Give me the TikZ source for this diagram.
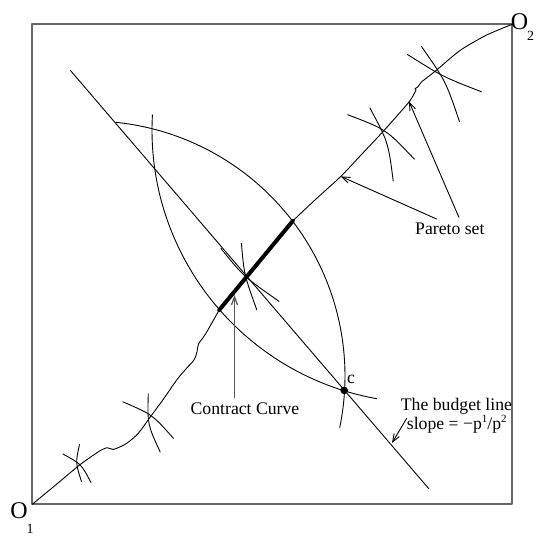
\documentclass[tikz,border=0pt]{standalone}
\usepackage{fontspec}
\setmainfont{Liberation Serif}
\usetikzlibrary{arrows.meta}
\begin{document}
\begin{tikzpicture}[x=1pt,y=-1pt,>={Straight Barb[length=8pt,width=6pt]},line join=round,line cap=round,
		curve/.style={line width=0.9pt},
		lbl/.style={inner sep=0pt,font=\fontsize{17.7}{18}\selectfont},
		orig/.style={inner sep=0pt,font=\fontsize{24}{24}\selectfont},
		origsub/.style={inner sep=0pt,font=\fontsize{14}{14}\selectfont}]
			\useasboundingbox (0,0) rectangle (537,536);
			\draw[black!60,line width=1.6pt] (32,24) rectangle (512,504);
			\node[orig] (o1) at (19,511) {O};
			\node[origsub] (o1sub) at (30,528.5) {1};
			\node[orig] (o2) at (519.5,21.5) {O};
			\node[origsub] (o2sub) at (530.5,36) {2};
			\coordinate (b1) at (70.2,70.2);
			\coordinate (b2) at (428.8,488.7);
			\draw[curve] (b1) -- (b2);
			\draw[curve] (90,376) ++(-84.2:255) arc[start angle=-84.2,end angle=11.7,radius=255];
			\draw[curve] (425,130) ++(183.2:273) arc[start angle=183.2,end angle=100.2,radius=273];
			\coordinate (cc1) at (219.2,310);
			\coordinate (cc2) at (292.8,220.9);
			\draw[curve] plot[smooth] coordinates {(32.3,504.3) (55,485.5) (78.3,466) (90,457.5) (100,450.7) (103.3,449) (106.7,447.7) (110,448.5) (113.3,449.5) (116.7,448.3) (126.7,443.3) (138.3,433.3) (150,417.3) (163.3,399.3) (176.7,380) (186.6,368.2) (194,360) (197,352) (198.5,344) (205.5,334) (219.2,310)};
			\draw[curve] plot[smooth] coordinates {(292.8,220.9) (316,199) (340.8,176.4) (361,155) (381.8,132.9) (396,117) (409,102) (414,94) (416,90)}
				-- (415,88.6) -- (417.5,87.3) -- plot[smooth] coordinates {(421.7,81.7) (436.7,70) (450,58.5) (463.3,48.3) (486.7,35) (511.7,24.5)};
			\draw[line width=4pt] (cc1) -- (cc2);
			\draw[curve] (79.5,444.5) .. controls (75.5,463) .. (81.5,481.5);
			\draw[curve] (62.9,454) .. controls (81.2,464) .. (91,482.5);
			\draw[curve] (148.3,393.8) .. controls (147.4,424.3) .. (160.2,452);
			\draw[curve] (122.8,401.8) .. controls (152.2,414.4) .. (173.5,438.4);
			\draw[curve] (220.9,248.3) .. controls (243.2,276.2) .. (279.1,301.4);
			\draw[curve] (241.4,243.2) .. controls (244.1,274.5) .. (256.8,309.9);
			\draw[curve] (347.6,114.7) .. controls (386.1,129.3) .. (414.4,159.2);
			\draw[curve] (369.9,107.9) .. controls (388.2,142.2) .. (393.2,180.8);
			\draw[curve] (407.5,54.5) .. controls (442.7,76.7) .. (481.5,91.8);
			\draw[curve] (421.4,46.4) .. controls (445.8,81.3) .. (459.5,121.6);
			\coordinate (c) at (344.2,390.4);
			\fill (c) circle (3.8);
			\node[lbl] (clbl) at (351,379) {c};
			\node[lbl,anchor=base] (cc) at (245,414.4) {Contract Curve};
			\coordinate (cctip) at (234.5,295);
			\draw[->,black!65,line width=1.3pt] ([yshift=5pt]cc.north -| cctip) -- (cctip);
			\node[lbl,anchor=base west] (ps) at (415,234.6) {Pareto set};
			\coordinate (pstip1) at (340.8,176.4);
			\coordinate (pstip2) at (409,101.5);
			\draw[->,curve] ([xshift=21.6pt,yshift=3.8pt]ps.north west) -- (pstip1);
			\draw[->,curve] ([xshift=43.9pt,yshift=5.5pt]ps.north west) -- (pstip2);
			\node[lbl,anchor=base west] (bl1) at (400.7,410.7) {The budget line};
			\node[lbl,anchor=base west] (bl2) at (406.7,429) {slope = −p\raisebox{6.5pt}{\fontsize{11}{11}\selectfont 1}/p\raisebox{6.5pt}{\fontsize{11}{11}\selectfont 2}};
			\coordinate (bltip) at (392,443);
			\draw[->,curve] ([yshift=10.7pt]bl2.base west) -- (bltip);
		\end{tikzpicture}
\end{document}
